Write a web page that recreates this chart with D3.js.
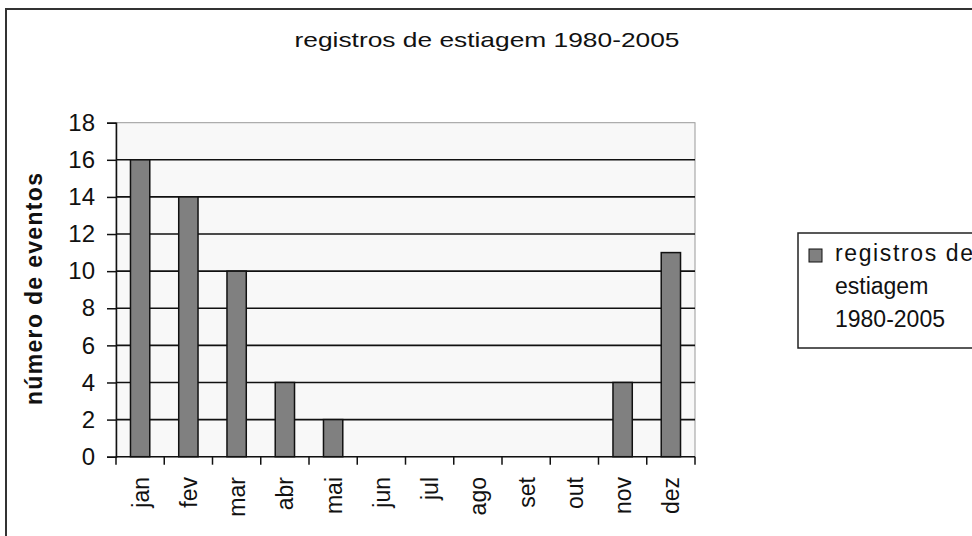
<!DOCTYPE html>
<html>
<head>
<meta charset="utf-8">
<script src="https://cdn.jsdelivr.net/npm/d3@7"></script>
<style>
  html, body { margin: 0; padding: 0; background: #fff; }
  svg { display: block; }
  text { font-family: Arial, "Liberation Sans", sans-serif; fill: #111; }
</style>
</head>
<body>
<svg id="chart" width="972" height="536"></svg>
<script>
const months = ["jan","fev","mar","abr","mai","jun","jul","ago","set","out","nov","dez"];
const eventCounts = [16, 14, 10, 4, 2, 0, 0, 0, 0, 0, 4, 11];
const yTicks = [0, 2, 4, 6, 8, 10, 12, 14, 16, 18];
const chartTitle = "registros de estiagem 1980-2005";
const yLabel = "número de eventos";
const legendLines = ["registros de", "estiagem", "1980-2005"];

const svg = d3.select("#chart");

// outer chart border (extends past right/bottom edges)
svg.append("rect")
  .attr("x", 6).attr("y", 9).attr("width", 1000).attr("height", 600)
  .attr("fill", "#fff").attr("stroke", "#333").attr("stroke-width", 2);

const plot = { left: 116, right: 695, top: 122.7, bottom: 456.7 };

const x = d3.scaleBand().domain(months).range([plot.left, plot.right]).padding(0);
const y = d3.scaleLinear().domain([0, 18]).range([plot.bottom, plot.top]);

// plot background
svg.append("rect")
  .attr("x", plot.left).attr("y", plot.top)
  .attr("width", plot.right - plot.left).attr("height", plot.bottom - plot.top)
  .attr("fill", "#f8f8f8").attr("stroke", "#999").attr("stroke-width", 1);

// gridlines
svg.append("g").selectAll("line")
  .data(yTicks.filter(d => d > 0 && d < 18))
  .join("line")
  .attr("x1", plot.left).attr("x2", plot.right)
  .attr("y1", d => y(d)).attr("y2", d => y(d))
  .attr("stroke", "#111").attr("stroke-width", 1.6);

// bars
const barW = x.bandwidth() * 0.4;
svg.append("g").selectAll("rect")
  .data(months.map((m, i) => ({ m, v: eventCounts[i] })).filter(d => d.v > 0))
  .join("rect")
  .attr("x", d => x(d.m) + (x.bandwidth() - barW) / 2)
  .attr("y", d => y(d.v))
  .attr("width", barW)
  .attr("height", d => y(0) - y(d.v))
  .attr("fill", "#808080").attr("stroke", "#111").attr("stroke-width", 1.5);

// y axis
const yAxis = d3.axisLeft(y).tickValues(yTicks).tickSize(9).tickPadding(12);
const gy = svg.append("g").attr("transform", `translate(${plot.left},0)`).call(yAxis);
gy.select(".domain").attr("stroke", "#111").attr("stroke-width", 1.5);
gy.selectAll(".tick line").attr("stroke", "#111").attr("stroke-width", 1.5);
gy.selectAll(".tick text").attr("font-size", 24).attr("fill", "#111")
  .attr("font-family", "Arial, 'Liberation Sans', sans-serif");

// x axis: ticks at category boundaries
const boundaries = months.map(m => x(m)).concat([plot.right]);
svg.append("line")
  .attr("x1", plot.left).attr("x2", plot.right)
  .attr("y1", plot.bottom).attr("y2", plot.bottom)
  .attr("stroke", "#111").attr("stroke-width", 1.5);
svg.append("g").selectAll("line")
  .data(boundaries).join("line")
  .attr("x1", d => d).attr("x2", d => d)
  .attr("y1", plot.bottom).attr("y2", plot.bottom + 8)
  .attr("stroke", "#111").attr("stroke-width", 1.5);

// x labels rotated
svg.append("g").selectAll("text")
  .data(months).join("text")
  .attr("transform", d => `translate(${x(d) + x.bandwidth() / 2 + 1},${477}) rotate(-90)`)
  .attr("text-anchor", "end")
  .attr("dy", "0.33em")
  .attr("font-size", 23)
  .text(d => d);

// title
svg.append("text")
  .attr("x", 487).attr("y", 47)
  .attr("text-anchor", "middle")
  .attr("font-size", 21)
  .attr("textLength", 385).attr("lengthAdjust", "spacingAndGlyphs")
  .text(chartTitle);

// y label
svg.append("text")
  .attr("transform", `translate(42,289) rotate(-90)`)
  .attr("text-anchor", "middle")
  .attr("font-size", 23).attr("font-weight", "bold")
  .attr("textLength", 232).attr("lengthAdjust", "spacing")
  .text(yLabel);

// legend
const lg = svg.append("g");
lg.append("rect")
  .attr("x", 798).attr("y", 233).attr("width", 200).attr("height", 115)
  .attr("fill", "#fff").attr("stroke", "#222").attr("stroke-width", 1.5);
lg.append("rect")
  .attr("x", 809).attr("y", 249).attr("width", 13).attr("height", 13)
  .attr("fill", "#808080").attr("stroke", "#111").attr("stroke-width", 1);
lg.selectAll("text.leg").data(legendLines).join("text")
  .attr("class", "leg")
  .attr("x", 835)
  .attr("y", (d, i) => 261 + i * 33)
  .attr("font-size", 23)
  .each(function (d, i) {
    if (i === 0) d3.select(this).attr("textLength", 138).attr("lengthAdjust", "spacing");
  })
  .text(d => d);
</script>
</body>
</html>
